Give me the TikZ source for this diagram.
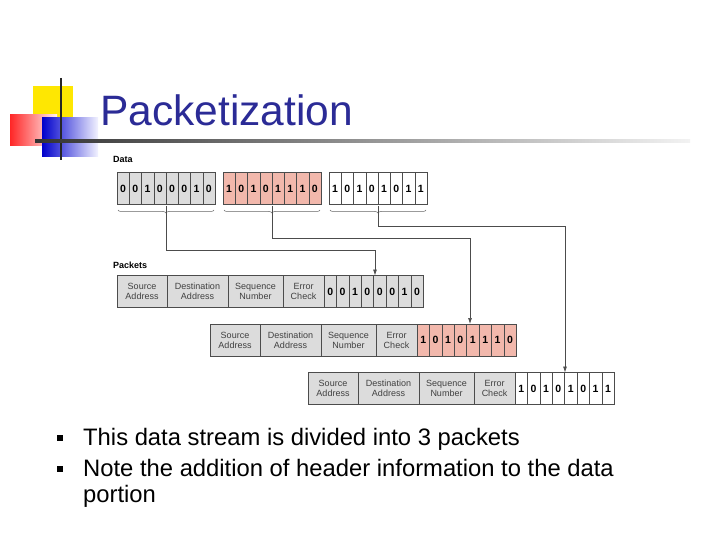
\documentclass[tikz,border=0pt]{standalone}
\usepackage{fontspec}
\setmainfont{Liberation Sans}
\usetikzlibrary{decorations.pathreplacing,arrows.meta}
\definecolor{ttl}{HTML}{2B2B96}
\definecolor{cg}{HTML}{DCDCDC}
\definecolor{cp}{HTML}{F2B8AC}
\tikzset{
  cell/.style={draw=black!70,line width=0.5pt,minimum height=32pt,inner sep=0pt,font=\fontsize{10.5}{10}\selectfont\bfseries},
  hcell/.style={draw=black!70,line width=0.5pt,minimum height=32pt,inner sep=0pt,font=\fontsize{9}{10}\selectfont\color{black!75},align=center},
  conn/.style={draw=black!70,line width=0.7pt},
  arr/.style={conn,-{Latex[length=6pt,width=4pt]}},
  lbl/.style={font=\fontsize{9}{9}\selectfont\bfseries,anchor=base west,inner sep=0pt}
}
\begin{document}
\begin{tikzpicture}[x=1pt,y=-1pt]
\useasboundingbox (0,0) rectangle (720,540);
% logo
\fill[yellow!90!orange] (33,86) rectangle (73,125);
\shade[left color=red!85,right color=red!5] (10,115) rectangle (57,146);
\shade[left color=blue!80!black,right color=blue!5] (42,118) rectangle (98,157);
\draw[line width=1.6pt,black!85] (61,78) -- (61,160);
\shade[left color=black!80,right color=black!5] (35,140) rectangle (690,142.5);
\node[anchor=base west,inner sep=0pt,text=ttl,font=\fontsize{42.5}{42}\selectfont] (title) at (100,126) {Packetization};
% labels
\node[lbl] (dl) at (113,163) {Data};
\node[lbl] (pl) at (113,268) {Packets};
% data rows
\def\cw{12.25}
\foreach \r/\x/\bits/\col in {1/117/{0,0,1,0,0,0,1,0}/cg, 2/223/{1,0,1,0,1,1,1,0}/cp, 3/329/{1,0,1,0,1,0,1,1}/white}{
  \foreach \b [count=\i from 0] in \bits {
    \node[cell,fill=\col,minimum width=\cw pt] (d\r c\i) at (\x+\i*\cw+\cw/2,188.5) {\b};
  }
  \draw[decorate,decoration={brace,mirror,amplitude=3pt},black!60,line width=0.5pt] (\x+1,210) -- (\x+97,210) coordinate[pos=0.5] (br\r);
}
% packets
\foreach \p/\x/\y/\bits/\col in {1/117/291.5/{0,0,1,0,0,0,1,0}/cg, 2/210/340/{1,0,1,0,1,1,1,0}/cp, 3/308/388.5/{1,0,1,0,1,0,1,1}/white}{
  \node[hcell,fill=cg,minimum width=50pt] (p\p h1) at (\x+25,\y) {Source\\Address};
  \node[hcell,fill=cg,minimum width=61pt] (p\p h2) at (\x+80.5,\y) {Destination\\Address};
  \node[hcell,fill=cg,minimum width=55pt] (p\p h3) at (\x+138.5,\y) {Sequence\\Number};
  \node[hcell,fill=cg,minimum width=41pt] (p\p h4) at (\x+186.5,\y) {Error\\Check};
  \foreach \b [count=\i from 0] in \bits {
    \node[cell,fill=\col,minimum width=12.4pt] (p\p c\i) at (\x+207+\i*12.4+6.2,\y) {\b};
  }
}
% connectors
\coordinate (s1) at ([yshift=4pt]br1);
\coordinate (s2) at ([yshift=4pt]br2);
\coordinate (s3) at ([yshift=4pt]br3);
\draw[arr] (s1) |- (375,250) -- (375,275.5);
\draw[arr] (s2) |- (470,238) -- (470,324);
\draw[arr] (s3) |- (565,226) -- (565,372.5);
% bullets
\fill (57,435) rectangle ++(6,6);
\fill (57,466) rectangle ++(6,6);
\node[anchor=base west,inner sep=0pt,font=\fontsize{23.8}{26}\selectfont] (b1) at (83,445) {This data stream is divided into 3 packets};
\node[anchor=base west,inner sep=0pt,font=\fontsize{23.8}{26}\selectfont] (b2) at (83,476) {Note the addition of header information to the data};
\node[anchor=base west,inner sep=0pt,font=\fontsize{23.8}{26}\selectfont] (b3) at (83,502) {portion};
\end{tikzpicture}
\end{document}
